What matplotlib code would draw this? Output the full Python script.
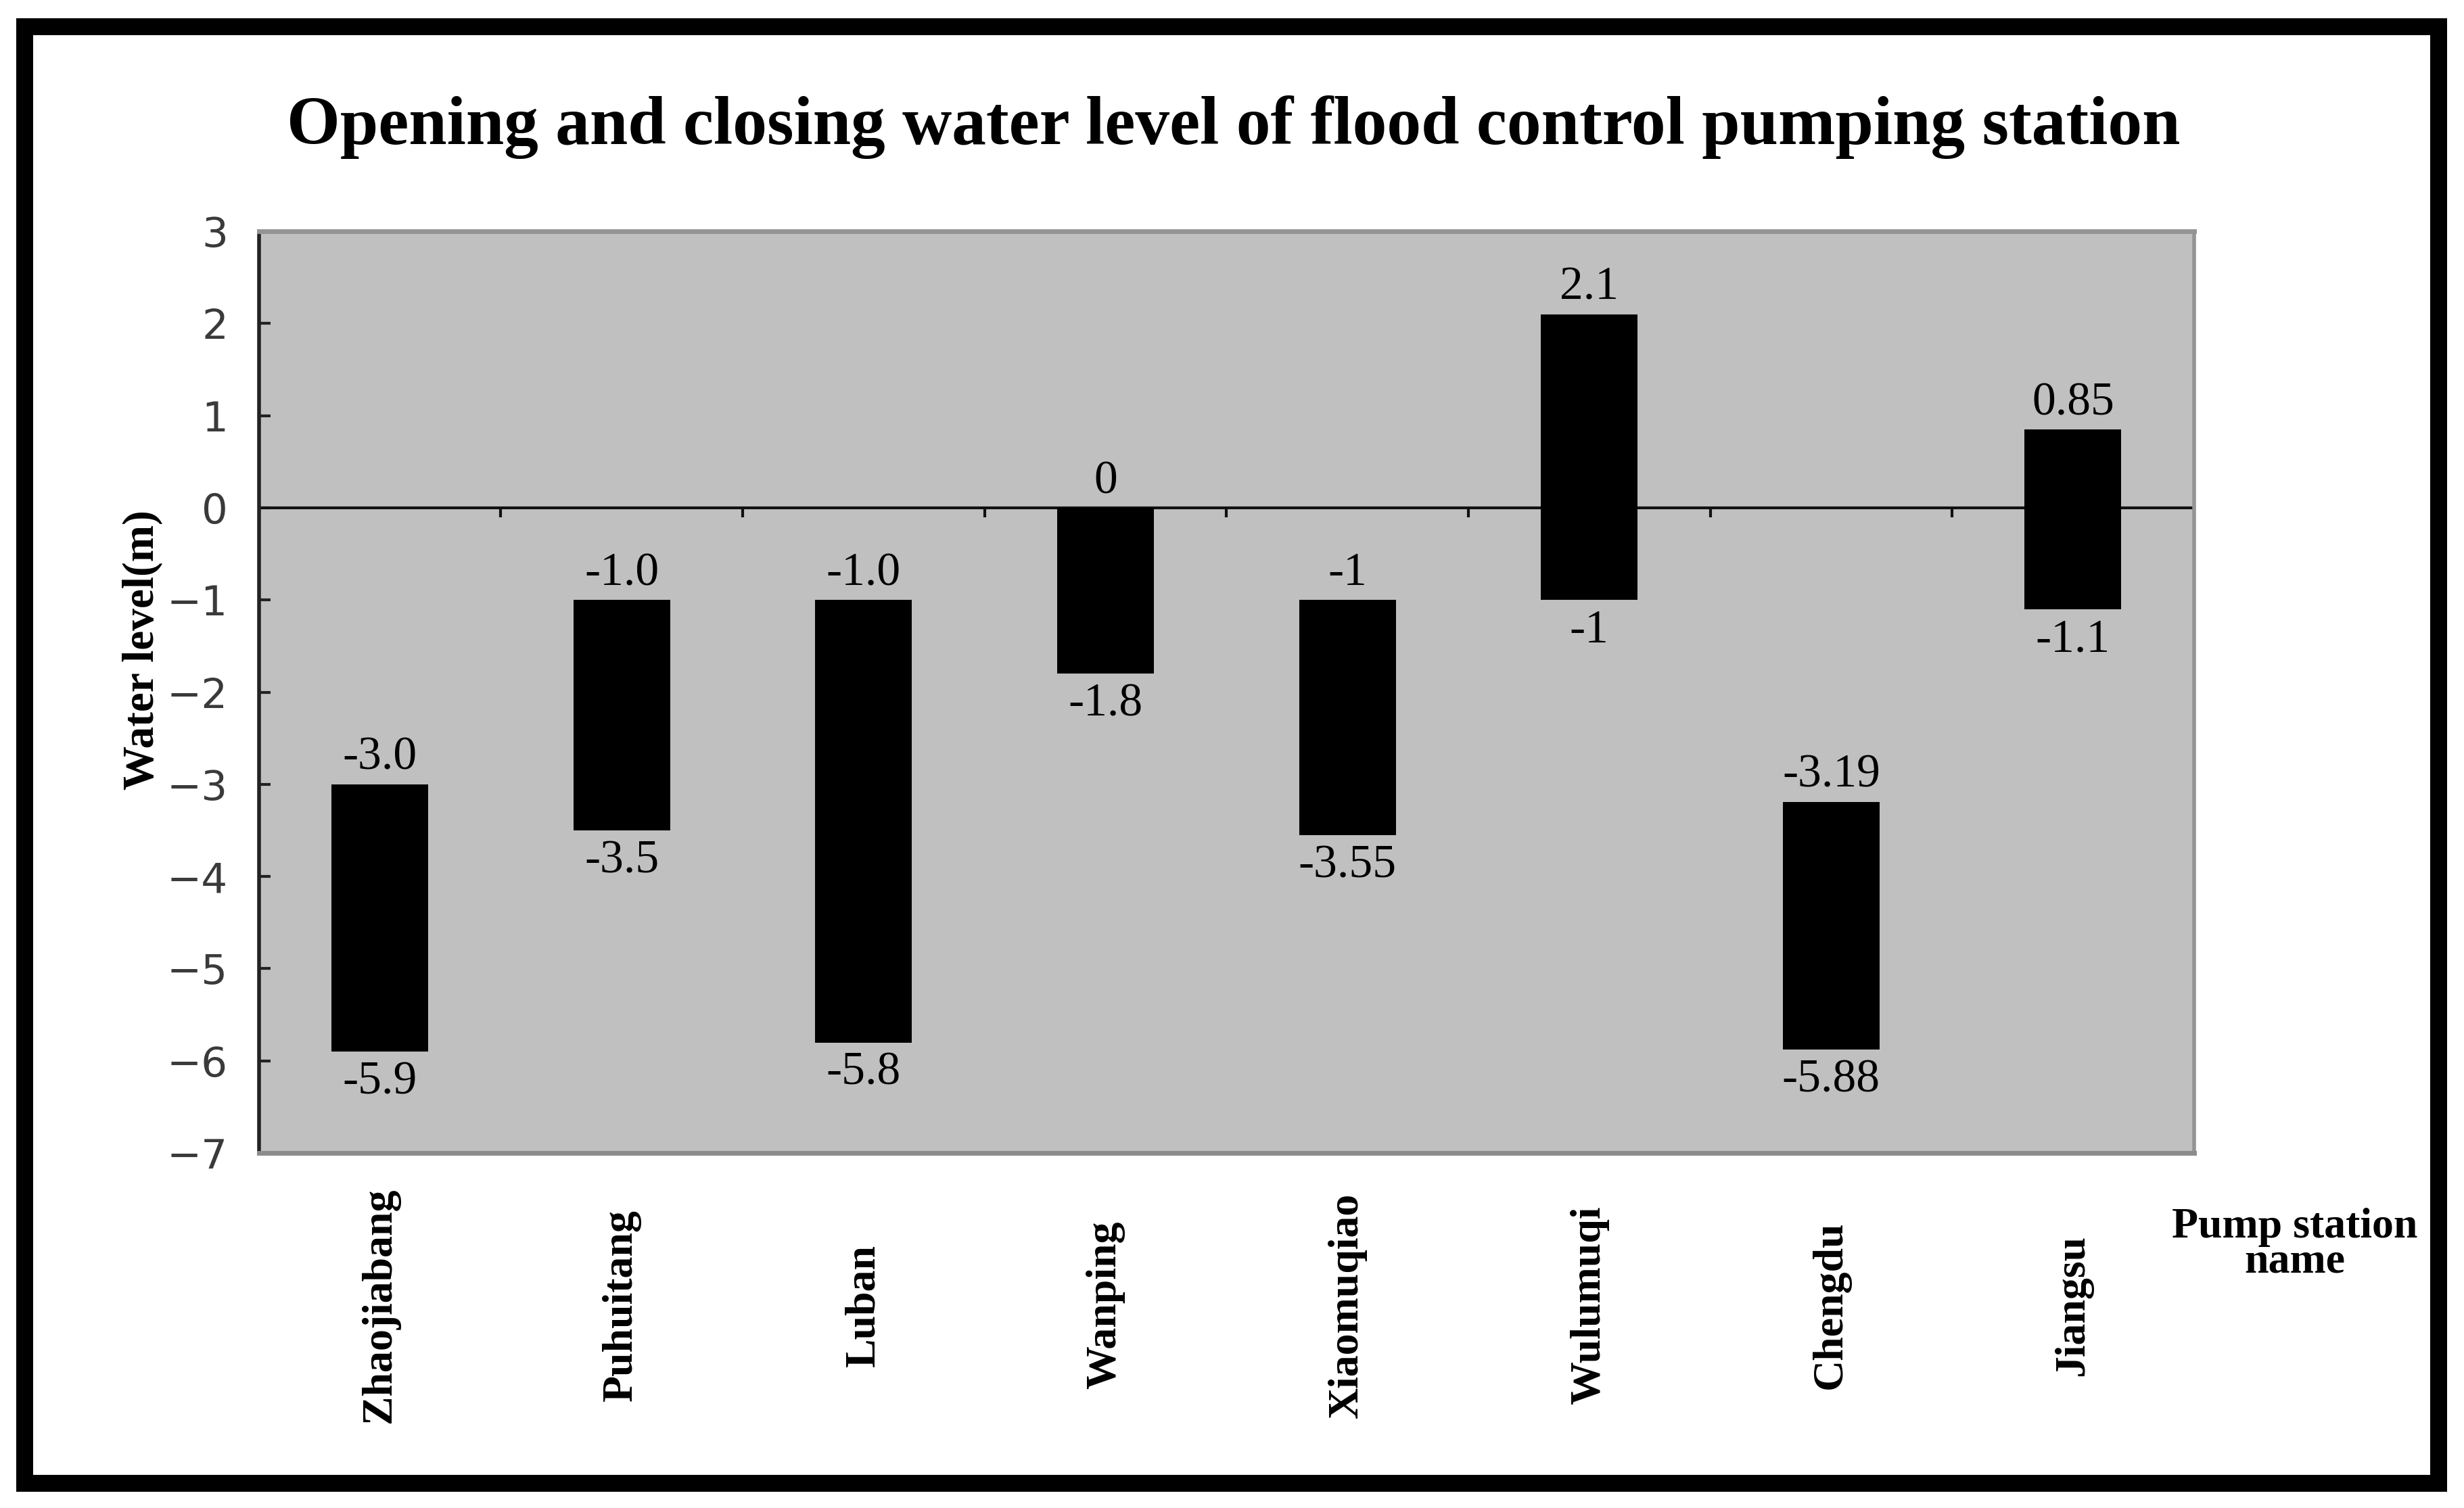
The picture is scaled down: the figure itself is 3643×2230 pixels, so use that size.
import matplotlib.pyplot as plt
from matplotlib.patches import Rectangle
import numpy as np

stations = ['Zhaojiabang', 'Puhuitang', 'Luban', 'Wanping', 'Xiaomuqiao',
            'Wulumuqi', 'Chengdu', 'Jiangsu']
opening = [-3.0, -1.0, -1.0, 0.0, -1.0, 2.1, -3.19, 0.85]
closing = [-5.9, -3.5, -5.8, -1.8, -3.55, -1.0, -5.88, -1.1]
opening_txt = ['-3.0', '-1.0', '-1.0', '0', '-1', '2.1', '-3.19', '0.85']
closing_txt = ['-5.9', '-3.5', '-5.8', '-1.8', '-3.55', '-1', '-5.88', '-1.1']
yticks = list(range(-7, 4))

serif = 'Liberation Serif'

fig = plt.figure(figsize=(36.43, 22.30), dpi=100)
ax = fig.add_axes([0.1051, 0.2354, 0.7853, 0.6112])
ax.set_facecolor('#c0c0c0')

x = np.arange(len(stations))
heights = np.array(opening) - np.array(closing)
ax.bar(x, heights, bottom=closing, width=0.4, color='black', zorder=3)

for i in range(len(stations)):
    ax.annotate(opening_txt[i], (x[i], opening[i]), xytext=(0, 5),
                textcoords='offset points', ha='center', va='bottom',
                fontsize=50, family=serif, color='black')
    ax.annotate(closing_txt[i], (x[i], closing[i]), xytext=(0, -10),
                textcoords='offset points', ha='center', va='top',
                fontsize=50, family=serif, color='black')

ax.set_xlim(-0.5, len(stations) - 0.5)
ax.set_ylim(yticks[0], yticks[-1])
ax.set_yticks(yticks)
ax.tick_params(axis='y', direction='in', length=12, width=3, pad=33,
               labelsize=44, colors='#222222', labelcolor='#3a3a3a')
ax.set_xticks(x, stations, rotation=90, va='center', ha='center',
              fontsize=46, fontweight='bold', family=serif)
ax.tick_params(axis='x', length=0, pad=162)

# zero line with small category separator ticks
ax.axhline(0, color='#111111', linewidth=3, zorder=2)
zero_frac = (0 - yticks[0]) / (yticks[-1] - yticks[0])
sec = ax.secondary_xaxis(zero_frac)
sec.set_xticks(x[:-1] + 0.5, [''] * (len(x) - 1))
sec.tick_params(direction='in', length=10, width=3, color='#111111')
sec.spines['bottom'].set_visible(False)

ax.spines['left'].set_color('#222222')
ax.spines['left'].set_linewidth(4)
ax.spines['bottom'].set_color('#8c8c8c')
ax.spines['bottom'].set_linewidth(5)
ax.spines['top'].set_color('#949494')
ax.spines['top'].set_linewidth(5)
ax.spines['right'].set_color('#949494')
ax.spines['right'].set_linewidth(4)

ax.set_ylabel('Water level(m)', fontsize=47, fontweight='bold', family=serif,
              va='center')
ax.yaxis.set_label_coords(-0.0601, 0.546)

fig.text(0.5005, 0.9045, 'Opening and closing water level of flood control pumping station',
         ha='center', va='baseline', fontsize=73, fontweight='bold', family=serif)
fig.text(0.9314, 0.1794, 'Pump station', ha='center', va='baseline',
         fontsize=46, fontweight='bold', family=serif)
fig.text(0.9314, 0.1565, 'name', ha='center', va='baseline',
         fontsize=46, fontweight='bold', family=serif)

# black picture frame
fig.patches.append(Rectangle((0.00988, 0.0166), 0.9797, 0.9659,
                             transform=fig.transFigure, fill=False,
                             edgecolor='black', linewidth=18))

fig.savefig('out.png', dpi=100)
